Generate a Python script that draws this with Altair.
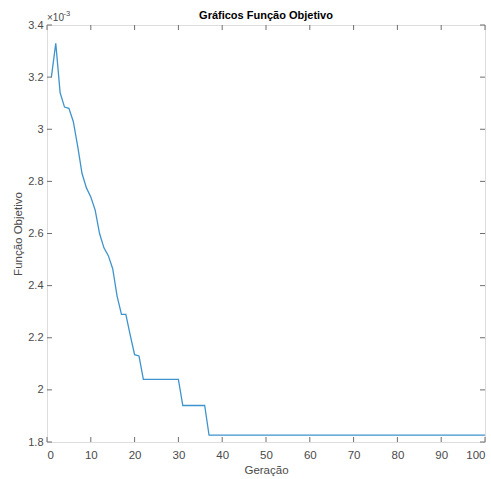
import altair as alt
import pandas as pd

# Values (y axis in units of 1e-3)
geracao = list(range(1, 101))
objetivo_e3 = (
    [3.20, 3.33, 3.14, 3.085, 3.08, 3.03, 2.935, 2.83, 2.775, 2.74,
     2.69, 2.60, 2.545, 2.515, 2.465, 2.36, 2.29, 2.29, 2.21, 2.135,
     2.13]
    + [2.04] * 9      # generations 22-30 (plateau)
    + [1.94] * 6      # generations 31-36 (plateau)
    + [1.826] * 64    # generations 37-100 (plateau)
)
x_ticks = [0, 10, 20, 30, 40, 50, 60, 70, 80, 90, 100]
y_ticks = [1.8, 2.0, 2.2, 2.4, 2.6, 2.8, 3.0, 3.2, 3.4]
titulo = "Gráficos Função Objetivo"

W, H = 438, 417
FONT = "Liberation Sans"
GRAY = "#4a4a4a"
FRAME = "#6e6e6e"

df = pd.DataFrame({"Geração": geracao, "obj": objetivo_e3})
xt = pd.DataFrame({"t": x_ticks})
yt = pd.DataFrame({"t": y_ticks})

xscale = alt.Scale(domain=[0, 100], nice=False, zero=False)
yscale = alt.Scale(domain=[1.8, 3.4], nice=False, zero=False)

line = alt.Chart(df).mark_line(color="#3f93cc", strokeWidth=1.3).encode(
    x=alt.X("Geração:Q", scale=xscale,
            axis=alt.Axis(values=x_ticks, title="Geração", grid=False, domain=False,
                          ticks=False, labelPadding=7, labelFontSize=11.5,
                          labelColor=GRAY, labelFont=FONT, titleFont=FONT,
                          titleFontSize=11.5, titleFontWeight="normal",
                          titleColor=GRAY, titlePadding=4)),
    y=alt.Y("obj:Q", scale=yscale,
            axis=alt.Axis(values=y_ticks, format="~g", title="Função Objetivo",
                          grid=False, domain=False, ticks=False, labelPadding=4,
                          labelFontSize=11, labelColor=GRAY, labelFont=FONT,
                          titleFont=FONT, titleFontSize=11.5,
                          titleFontWeight="normal", titleColor=GRAY,
                          titlePadding=4)),
)

tick_style = dict(color=FRAME, strokeWidth=1)
bottom_ticks = alt.Chart(xt).mark_rule(**tick_style).encode(
    x=alt.X("t:Q", scale=xscale), y=alt.value(H), y2=alt.value(H - 5))
top_ticks = alt.Chart(xt).mark_rule(**tick_style).encode(
    x=alt.X("t:Q", scale=xscale), y=alt.value(0), y2=alt.value(5))
left_ticks = alt.Chart(yt).mark_rule(**tick_style).encode(
    y=alt.Y("t:Q", scale=yscale), x=alt.value(0), x2=alt.value(5))
right_ticks = alt.Chart(yt).mark_rule(**tick_style).encode(
    y=alt.Y("t:Q", scale=yscale), x=alt.value(W), x2=alt.value(W - 5))

exp_base = alt.Chart(pd.DataFrame({"s": ["×10"]})).mark_text(
    align="left", baseline="alphabetic", font=FONT, fontSize=10, color=GRAY
).encode(text="s:N", x=alt.value(0), y=alt.value(-4))
exp_pow = alt.Chart(pd.DataFrame({"s": ["-3"]})).mark_text(
    align="left", baseline="alphabetic", font=FONT, fontSize=7.5, color=GRAY
).encode(text="s:N", x=alt.value(16.5), y=alt.value(-9))

title_mark = alt.Chart(pd.DataFrame({"s": [titulo]})).mark_text(
    align="center", baseline="alphabetic", font=FONT, fontSize=11,
    fontWeight="bold", color="#000000"
).encode(text="s:N", x=alt.value(W / 2), y=alt.value(-6))

chart = alt.layer(
    line, bottom_ticks, top_ticks, left_ticks, right_ticks, exp_base, exp_pow,
    title_mark
).properties(
    width=W, height=H,
    autosize=alt.AutoSizeParams(type="none"),
    padding={"left": 47, "top": 25, "right": 6, "bottom": 37},
).configure_view(stroke=FRAME, strokeWidth=1.3).configure(background="white")

chart.save("out.html", embed_options={"renderer": "svg", "actions": False})
